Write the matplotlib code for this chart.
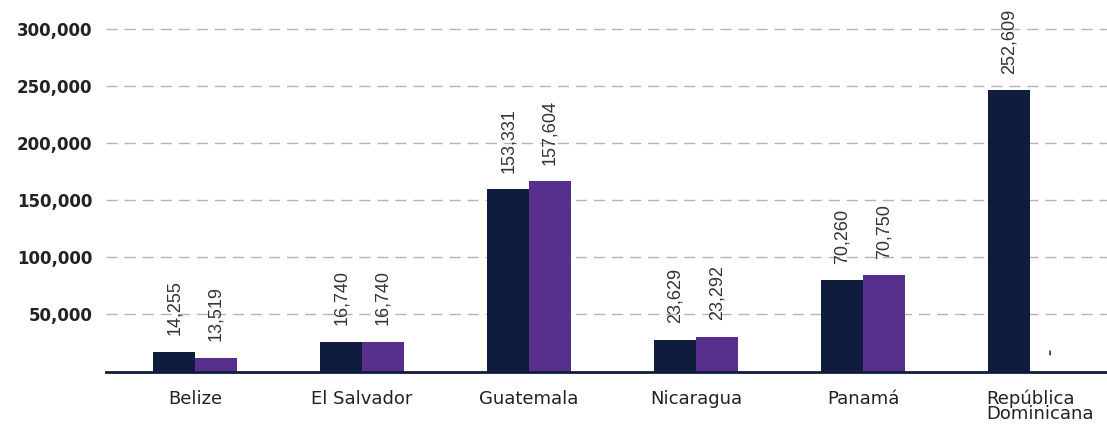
import matplotlib
matplotlib.use("Agg")
import matplotlib.pyplot as plt
import numpy as np

# ── data (bar heights; printed labels as shown) ───────────────────────────
countries = ["Belize", "El Salvador", "Guatemala", "Nicaragua", "Panamá",
             "República\nDominicana"]
series_a = [17300, 26100, 159600, 27900, 79800, 246400]
series_b = [11900, 26100, 166700, 30500, 84200, 0]
labels_a = ["14,255", "16,740", "153,331", "23,629", "70,260", "252,609"]
labels_b = ["13,519", "16,740", "157,604", "23,292", "70,750", "-"]
yticks = [50000, 100000, 150000, 200000, 250000, 300000]

NAVY = "#101c3e"
PURPLE = "#56308c"
INK = "#222222"
LABEL = "#333333"
GRID = "#b4b4b4"

fig = plt.figure(figsize=(11.07, 4.24), dpi=100)
ax = fig.add_axes([0.0958, 0.1238, 0.9042, 0.8762])

x = np.arange(len(countries))
w = 0.25
ax.bar(x - w / 2, series_a, width=w, color=NAVY, zorder=3)
ax.bar(x + w / 2, series_b, width=w, color=PURPLE, zorder=3)

for xs, vals, labs in ((x - w / 2, series_a, labels_a),
                       (x + w / 2, series_b, labels_b)):
    for xi, v, lab in zip(xs, vals, labs):
        ax.annotate(lab, (xi, v), xytext=(0, 12), textcoords="offset points",
                    rotation=90, ha="center", va="bottom", fontsize=13,
                    color=LABEL, family=["Liberation Sans", "DejaVu Sans"],
                    fontweight="bold" if lab == "-" else "normal")

ax.set_xlim(-0.533, 5.46)
ax.set_ylim(0, 325400)
ax.set_yticks(yticks)
ax.set_yticklabels([f"{t:,}" for t in yticks], fontsize=12,
                   fontweight="bold", color=INK)
ax.set_xticks(x)
# last category is drawn as its own text so it can sit a bit right of centre
ax.set_xticklabels(countries[:-1] + [""], fontsize=13, color=INK)
ax.annotate(countries[-1], (x[-1], 0), xycoords=("data", "axes fraction"),
            xytext=(7, -13), textcoords="offset points", ha="center",
            va="top", fontsize=13, color=INK, linespacing=0.8,
            multialignment="left")
ax.tick_params(axis="y", length=0, pad=10)
ax.tick_params(axis="x", length=0, pad=13)

ax.yaxis.grid(True, color=GRID, linestyle=(0, (8, 5)), linewidth=1.0)
ax.set_axisbelow(True)
ax.spines[["top", "right", "left"]].set_visible(False)
ax.spines["bottom"].set_color(NAVY)
ax.spines["bottom"].set_linewidth(2)
ax.spines["bottom"].set_zorder(4)

fig.savefig("out.png", dpi=100, facecolor="white")
